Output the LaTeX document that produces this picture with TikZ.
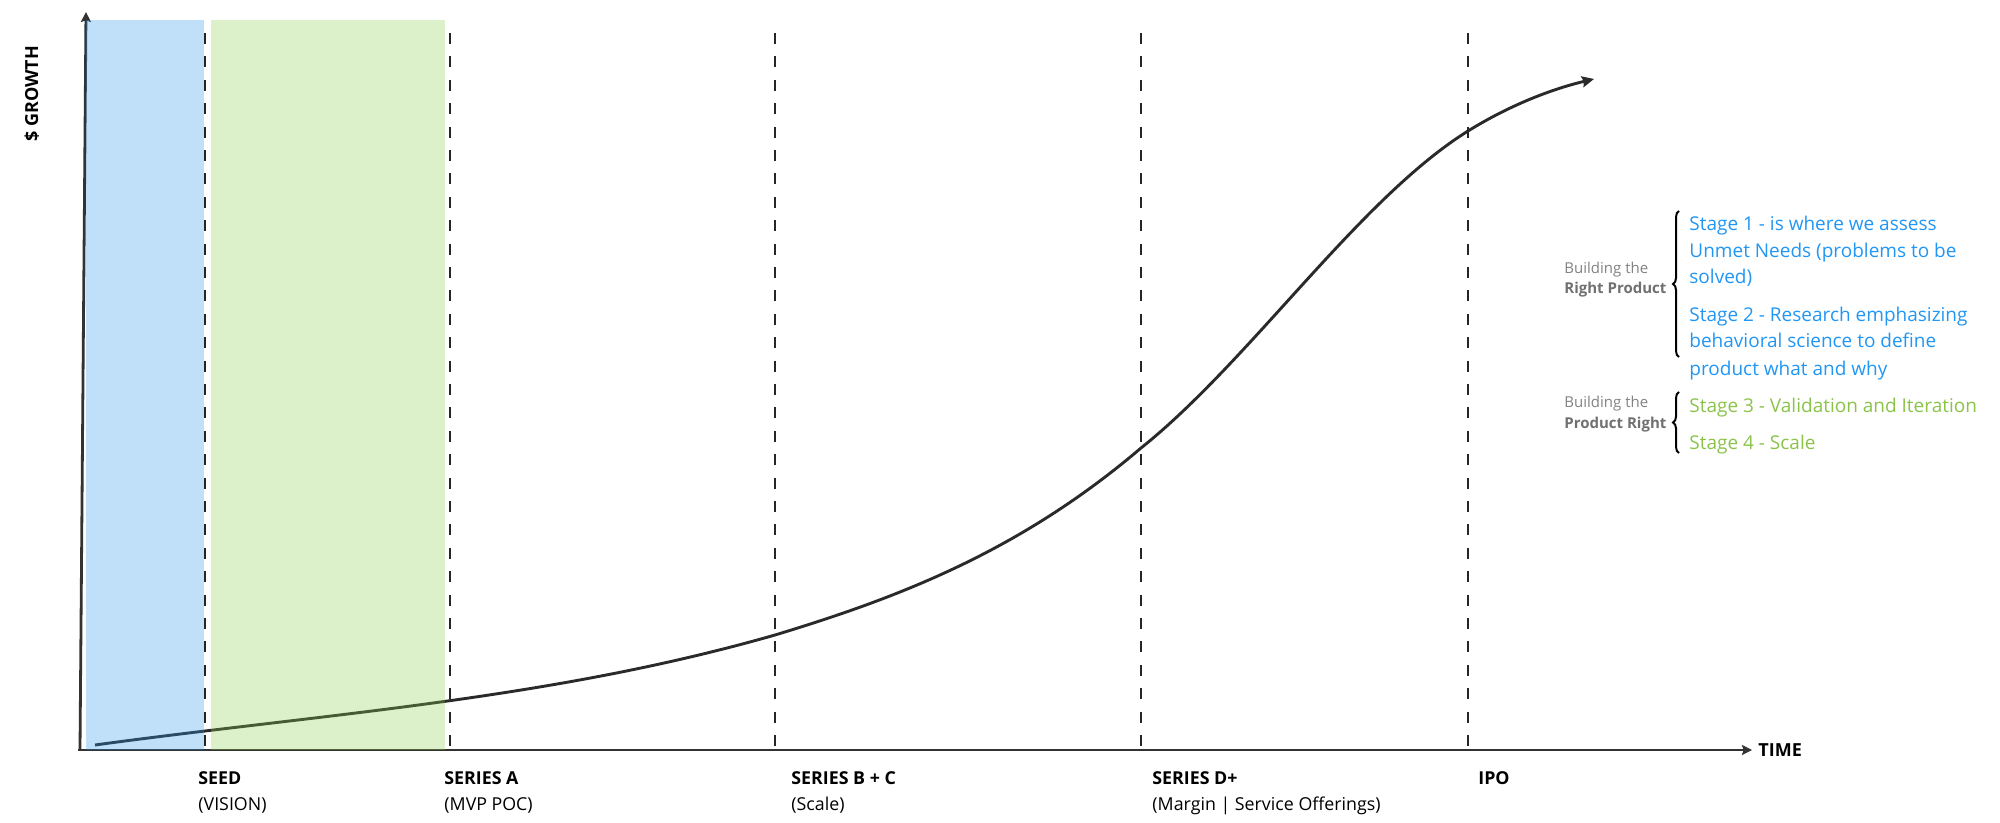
\documentclass[tikz,border=0pt]{standalone}
\usepackage{fontspec}
\setmainfont{Open Sans}
\usetikzlibrary{arrows.meta,decorations.pathreplacing}
\definecolor{axisc}{HTML}{333333}
\definecolor{curvec}{HTML}{2A2A2A}
\definecolor{dashc}{HTML}{262626}
\definecolor{rectblue}{RGB}{45,152,238}
\definecolor{rectgreen}{RGB}{138,205,78}
\definecolor{stblue}{RGB}{33,150,243}
\definecolor{stgreen}{RGB}{139,195,74}
\definecolor{graytxt}{RGB}{130,130,130}
\definecolor{graybold}{RGB}{112,112,112}
\begin{document}
\begin{tikzpicture}[x=0.5pt,y=-0.5pt,
  axisline/.style={draw=axisc, line width=1.4pt, -{Stealth[length=5pt,width=5pt,inset=0.8pt]}},
  growth/.style={draw=curvec, line width=1.45pt, -{Stealth[length=6pt,width=5.5pt,inset=0.8pt]}},
  dashline/.style={draw=dashc, line width=1.15pt, dash pattern=on 5.5pt off 6.2pt},
  bandblue/.style={fill=rectblue, fill opacity=0.3},
  bandgreen/.style={fill=rectgreen, fill opacity=0.3},
  lbl/.style={font=\fontsize{8.9}{10}\selectfont\bfseries, text=black, anchor=base west, inner sep=0pt},
  sublbl/.style={font=\fontsize{8.9}{10}\selectfont, text=black, anchor=base west, inner sep=0pt},
  axtitle/.style={font=\fontsize{9}{10}\selectfont\bfseries, text=black, inner sep=0pt},
  stb/.style={font=\fontsize{9.5}{12}\selectfont, text=stblue, anchor=base west, inner sep=0pt},
  stg/.style={font=\fontsize{9.5}{12}\selectfont, text=stgreen, anchor=base west, inner sep=0pt},
  grayl/.style={font=\fontsize{7.5}{9}\selectfont, text=graytxt, anchor=base west, inner sep=0pt},
  grayb/.style={font=\fontsize{7.5}{9}\selectfont\bfseries, text=graybold, anchor=base west, inner sep=0pt},
  bracest/.style={draw=black, line width=1pt, decorate, decoration={brace, amplitude=3pt}}
]
\useasboundingbox (0,0) rectangle (2000,823);

% axes
\coordinate (o) at (80,750);
\coordinate (ytop) at (86,12);
\coordinate (xstart) at (78,750);
\coordinate (xend) at (1752,750);
\draw[axisline] (o) -- (ytop);
\draw[axisline] (xstart) -- (xend);

% growth curve
\coordinate (gstart) at (95,745);
\coordinate (g1) at (775,635);
\coordinate (g2) at (1141,448);
\coordinate (g3) at (1468,131);
\coordinate (gend) at (1594,79);
\draw[growth] (gstart) .. controls (322,714) and (548,700) .. (g1)
  .. controls (897,598) and (1019,552) .. (g2)
  .. controls (1250,361) and (1359,199) .. (g3)
  .. controls (1510,105) and (1552,89) .. (gend);

% shaded bands
\fill[bandblue] (86,20) rectangle (204,750);
\fill[bandgreen] (211,20) rectangle (445,750);

% dashed stage lines
\foreach \n/\x in {a/205,b/450,c/775,d/1141,e/1468}{
  \coordinate (\n top) at (\x,33);
  \coordinate (\n bot) at (\x,750);
  \draw[dashline] (\n top) -- (\n bot);
}

% axis titles
\node[axtitle, rotate=90, anchor=base] (ylab) at (38,94) {\$ GROWTH};
\node[axtitle, anchor=base west] (xlab) at (1758,756) {TIME};

% bottom labels
\node[lbl] (seed) at (198,784) {SEED};
\node[sublbl] (seeds) at (198,810) {(VISION)};
\node[lbl] (sera) at (444,784) {SERIES A};
\node[sublbl] (seras) at (444,810) {(MVP POC)};
\node[lbl] (serbc) at (791,784) {SERIES B + C};
\node[sublbl] (serbcs) at (791,810) {(Scale)};
\node[lbl] (serd) at (1152,784) {SERIES D+};
\node[sublbl] (serds) at (1152,810) {(Margin | Service Offerings)};
\node[lbl] (ipo) at (1478,784) {IPO};

% legend
\node[grayl] (b1a) at (1564,274) {Building the};
\node[grayb] (b1b) at (1564,294) {Right Product};
\node[grayl] (b2a) at (1564,407) {Building the};
\node[grayb] (b2b) at (1564,428) {Product Right};

\coordinate (br1b) at (1679,357);
\coordinate (br1t) at (1679,211);
\coordinate (br2b) at (1679,453);
\coordinate (br2t) at (1679,392);
\draw[bracest] (br1b) -- (br1t);
\draw[bracest] (br2b) -- (br2t);

\node[stb] (s1a) at (1689,231) {Stage 1 - is where we assess};
\node[stb] (s1b) at (1689,257.5) {Unmet Needs (problems to be};
\node[stb] (s1c) at (1689,284) {solved)};
\node[stb] (s2a) at (1689,321.5) {Stage 2 - Research emphasizing};
\node[stb] (s2b) at (1689,348) {behavioral science to define};
\node[stb] (s2c) at (1689,375) {product what and why};
\node[stg] (s3) at (1689,412) {Stage 3 - Validation and Iteration};
\node[stg] (s4) at (1689,449.5) {Stage 4 - Scale};
\end{tikzpicture}
\end{document}
